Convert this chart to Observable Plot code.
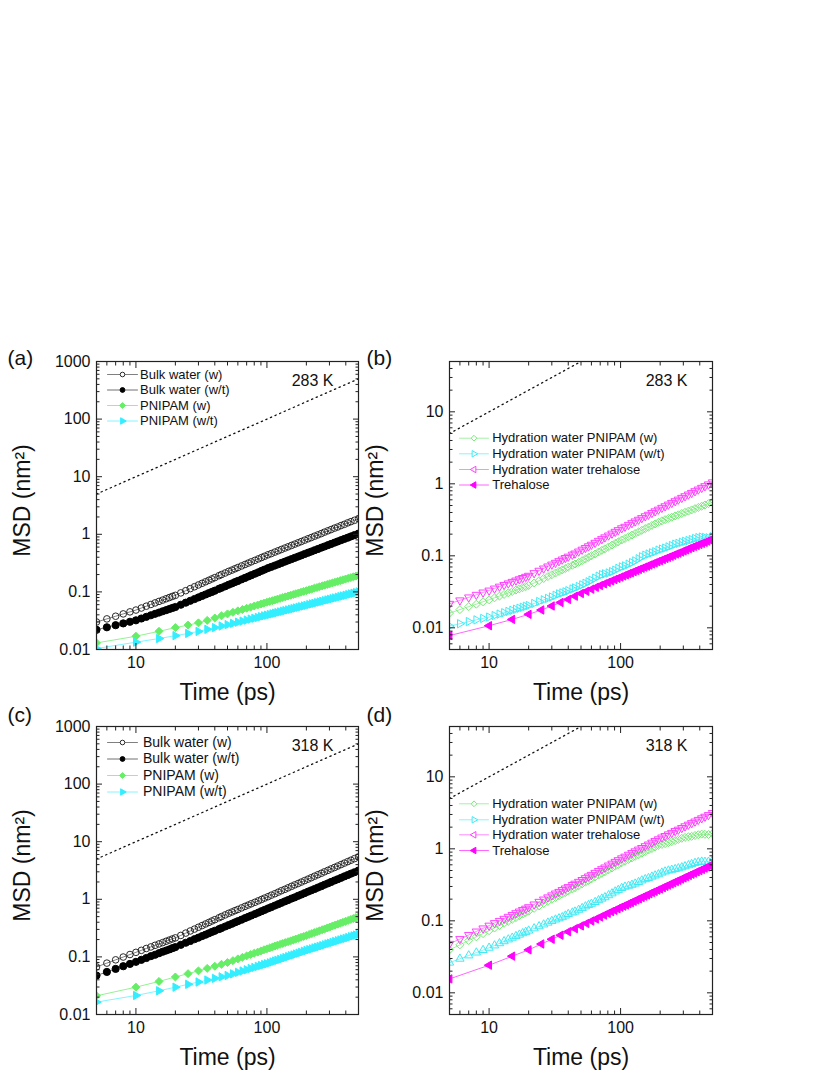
<!DOCTYPE html>
<html>
<head>
<meta charset="utf-8">
<script src="https://cdn.jsdelivr.net/npm/d3@7"></script>
<script src="https://cdn.jsdelivr.net/npm/@observablehq/plot@0.6"></script>
<style>
  body { margin: 0; background: #fff; }
  #fig { position: relative; width: 830px; height: 1075px; background: #fff; }
  #fig svg { position: absolute; }
</style>
</head>
<body>
<div id="fig"></div>
<script>
// ---------------- time grids (ps) ----------------
const T_FINE = [5,6,7,8,9,10,11,12,13,14,15,16,17,18,19,20,22,24,26,28,30,32,34,36,38,40,43,45,48,51,54,57,60,64,68,72,76,81,86,91,96,102,108,115,122,129,137,145,154,163,173,183,194,206,218,231,245,260,275,292,309,328,347,368,390,414,438,466,500];
const T_COARSE = [5,10,15,20,25,30,35,40,45,50,55,60,65,70,75,80,85,90,95,100,105,110,115,120,126,132,138,145,152,159,166,174,182,191,200,210,220,230,241,252,264,276,289,302,316,331,347,363,380,398,417,437,457,478,500];

// slope-1 guide (dotted)
const REF_T = [5, 500];
const REF_V = [5, 500];

// ---------------- 283 K ----------------
const BULK_W_283 = [0.030,0.034,0.0378,0.0415,0.045,0.0484,0.0525,0.0565,0.0605,0.0644,0.0684,0.0721,0.076,0.0798,0.0836,0.0871,0.0961,0.105,0.114,0.123,0.132,0.141,0.150,0.159,0.168,0.177,0.191,0.200,0.213,0.227,0.239,0.252,0.265,0.282,0.299,0.316,0.333,0.353,0.374,0.395,0.416,0.441,0.463,0.491,0.518,0.546,0.577,0.606,0.641,0.675,0.712,0.749,0.791,0.836,0.878,0.928,0.977,1.03,1.09,1.15,1.21,1.28,1.34,1.42,1.49,1.58,1.66,1.75,1.87];
const BULK_WT_283 = [0.022,0.0243,0.0264,0.0284,0.0303,0.0321,0.0345,0.0369,0.0393,0.0416,0.0438,0.0461,0.0482,0.0505,0.0526,0.0547,0.0598,0.065,0.0701,0.0752,0.0802,0.0853,0.0902,0.0953,0.1,0.105,0.113,0.118,0.125,0.133,0.14,0.148,0.155,0.165,0.175,0.185,0.195,0.207,0.219,0.232,0.244,0.259,0.272,0.287,0.302,0.318,0.335,0.352,0.371,0.39,0.411,0.431,0.455,0.479,0.502,0.529,0.556,0.586,0.614,0.647,0.68,0.716,0.751,0.791,0.831,0.875,0.918,0.969,1.03];
const PNIPAM_W_283 = [0.013,0.017,0.0207,0.024,0.0265,0.029,0.032,0.0352,0.0385,0.0415,0.0442,0.0469,0.0494,0.052,0.0544,0.0569,0.0591,0.0615,0.0638,0.0661,0.0682,0.0704,0.0726,0.0746,0.0771,0.0796,0.082,0.0847,0.0875,0.0901,0.0928,0.0958,0.0987,0.102,0.105,0.109,0.112,0.116,0.119,0.123,0.127,0.131,0.135,0.139,0.143,0.147,0.152,0.157,0.162,0.167,0.172,0.177,0.183,0.188,0.194];
const PNIPAM_WT_283 = [0.0104,0.0134,0.0155,0.0174,0.019,0.0206,0.0224,0.024,0.0256,0.027,0.0284,0.0298,0.0311,0.0324,0.0337,0.0349,0.036,0.0372,0.0384,0.0394,0.0405,0.0416,0.0427,0.0437,0.0449,0.0462,0.0474,0.0487,0.05,0.0513,0.0526,0.0541,0.0554,0.057,0.0585,0.0602,0.0618,0.0635,0.0652,0.0669,0.0688,0.0706,0.0725,0.0744,0.0764,0.0785,0.0807,0.0829,0.085,0.0874,0.0898,0.0923,0.0948,0.0973,0.1];
const HYD_PNIPAM_W_283 = [0.016,0.0179,0.0197,0.0213,0.023,0.0245,0.0261,0.0276,0.0291,0.0306,0.032,0.0334,0.0348,0.0361,0.0374,0.0387,0.042,0.0452,0.0484,0.0515,0.0546,0.0577,0.0607,0.0637,0.0667,0.0697,0.074,0.0769,0.0813,0.0858,0.0904,0.0953,0.1,0.106,0.113,0.119,0.125,0.133,0.141,0.149,0.156,0.166,0.174,0.184,0.194,0.204,0.215,0.226,0.239,0.25,0.264,0.277,0.292,0.306,0.318,0.331,0.344,0.358,0.371,0.387,0.402,0.418,0.434,0.452,0.47,0.489,0.508,0.53,0.556];
const HYD_PNIPAM_WT_283 = [0.0106,0.0114,0.0122,0.0129,0.0135,0.0141,0.0148,0.0155,0.0162,0.0169,0.0175,0.0181,0.0187,0.0193,0.0199,0.0204,0.0218,0.0232,0.0245,0.0256,0.0268,0.0283,0.0296,0.0305,0.0316,0.0328,0.0346,0.0358,0.0375,0.0395,0.0415,0.0436,0.0458,0.049,0.0522,0.0548,0.0562,0.0578,0.0603,0.0632,0.067,0.0702,0.0725,0.0765,0.0805,0.085,0.091,0.097,0.102,0.106,0.11,0.114,0.12,0.124,0.128,0.133,0.139,0.145,0.149,0.154,0.159,0.163,0.168,0.174,0.179,0.182,0.18,0.178,0.184];
const HYD_TREH_283 = [0.0216,0.0241,0.0265,0.0288,0.031,0.033,0.0352,0.0374,0.0395,0.0415,0.0436,0.0455,0.0474,0.0493,0.0512,0.053,0.0576,0.0622,0.0668,0.0713,0.0758,0.0802,0.0846,0.089,0.0935,0.0977,0.104,0.108,0.115,0.122,0.129,0.136,0.143,0.152,0.162,0.171,0.181,0.192,0.204,0.216,0.228,0.242,0.254,0.27,0.285,0.301,0.318,0.335,0.355,0.373,0.395,0.416,0.439,0.465,0.489,0.516,0.545,0.575,0.605,0.64,0.674,0.712,0.75,0.792,0.835,0.882,0.929,0.983,1.05];
const TREH_283 = [0.0078,0.0107,0.0131,0.0154,0.0177,0.0201,0.0225,0.0248,0.0275,0.030,0.0322,0.0344,0.0366,0.0387,0.0408,0.0428,0.0448,0.0468,0.0487,0.0507,0.0526,0.0545,0.0564,0.0581,0.0603,0.0626,0.0647,0.0671,0.0696,0.0719,0.0744,0.0771,0.0797,0.0827,0.0856,0.0889,0.092,0.0953,0.0986,0.102,0.106,0.109,0.113,0.117,0.121,0.126,0.13,0.135,0.139,0.144,0.149,0.154,0.16,0.166,0.171];

// ---------------- 318 K ----------------
const BULK_W_318 = [0.067,0.078,0.0889,0.0995,0.11,0.12,0.13,0.14,0.149,0.159,0.168,0.177,0.187,0.196,0.205,0.214,0.236,0.259,0.282,0.304,0.327,0.35,0.373,0.396,0.42,0.443,0.477,0.501,0.536,0.571,0.602,0.635,0.666,0.709,0.753,0.794,0.837,0.888,0.941,0.995,1.05,1.11,1.18,1.25,1.33,1.41,1.49,1.58,1.68,1.78,1.88,1.99,2.11,2.24,2.37,2.52,2.67,2.83,3.0,3.18,3.37,3.57,3.78,4.01,4.25,4.51,4.77,5.08,5.45];
const BULK_WT_318 = [0.0475,0.0548,0.0619,0.0689,0.0755,0.082,0.0889,0.0957,0.103,0.109,0.116,0.123,0.129,0.135,0.142,0.148,0.162,0.176,0.189,0.203,0.216,0.23,0.243,0.257,0.271,0.284,0.303,0.317,0.337,0.357,0.376,0.397,0.417,0.443,0.471,0.496,0.523,0.555,0.588,0.622,0.654,0.694,0.732,0.778,0.822,0.869,0.92,0.969,1.03,1.08,1.15,1.21,1.28,1.36,1.43,1.51,1.6,1.69,1.79,1.89,2.0,2.12,2.23,2.36,2.5,2.64,2.79,2.95,3.16];
const PNIPAM_W_318 = [0.0211,0.0298,0.0375,0.0448,0.0512,0.0572,0.0632,0.0688,0.0744,0.080,0.0861,0.0923,0.0983,0.104,0.110,0.116,0.121,0.127,0.133,0.138,0.143,0.148,0.154,0.159,0.165,0.171,0.177,0.184,0.19,0.197,0.204,0.211,0.219,0.227,0.235,0.245,0.254,0.264,0.274,0.284,0.296,0.306,0.318,0.33,0.343,0.356,0.37,0.384,0.398,0.414,0.43,0.446,0.464,0.481,0.5];
const PNIPAM_WT_318 = [0.0164,0.0214,0.0258,0.0298,0.0334,0.0366,0.0396,0.0424,0.045,0.0476,0.0508,0.0539,0.0569,0.0598,0.0628,0.0656,0.0683,0.0709,0.0737,0.076,0.0789,0.0818,0.0847,0.0874,0.0906,0.094,0.0973,0.101,0.105,0.108,0.112,0.116,0.12,0.125,0.129,0.134,0.138,0.143,0.147,0.152,0.157,0.162,0.168,0.173,0.179,0.185,0.191,0.197,0.204,0.21,0.217,0.225,0.232,0.239,0.247];
const HYD_PNIPAM_W_318 = [0.0395,0.0464,0.0532,0.0599,0.0664,0.0729,0.0794,0.0859,0.0924,0.0987,0.105,0.111,0.118,0.124,0.13,0.136,0.149,0.161,0.174,0.186,0.199,0.211,0.223,0.235,0.247,0.259,0.277,0.289,0.307,0.326,0.344,0.363,0.381,0.406,0.432,0.456,0.481,0.511,0.542,0.574,0.604,0.641,0.672,0.711,0.748,0.786,0.828,0.869,0.918,0.963,1.01,1.06,1.12,1.15,1.18,1.22,1.26,1.3,1.35,1.4,1.44,1.47,1.49,1.53,1.57,1.6,1.59,1.58,1.62];
const HYD_PNIPAM_WT_318 = [0.0262,0.0297,0.033,0.0362,0.0392,0.0422,0.0454,0.0487,0.0519,0.055,0.0581,0.0612,0.0641,0.0671,0.07,0.073,0.0784,0.0838,0.0888,0.0942,0.0994,0.104,0.108,0.112,0.118,0.124,0.13,0.134,0.142,0.15,0.158,0.165,0.172,0.182,0.193,0.203,0.212,0.226,0.24,0.255,0.268,0.285,0.297,0.306,0.316,0.328,0.345,0.363,0.378,0.392,0.41,0.425,0.442,0.466,0.483,0.498,0.51,0.522,0.536,0.552,0.57,0.59,0.612,0.635,0.652,0.662,0.658,0.66,0.69];
const HYD_TREH_318 = [0.048,0.0559,0.0636,0.0712,0.0786,0.0859,0.0931,0.1,0.107,0.114,0.121,0.128,0.135,0.142,0.148,0.155,0.169,0.184,0.198,0.212,0.226,0.24,0.253,0.268,0.282,0.295,0.315,0.329,0.349,0.37,0.392,0.414,0.436,0.465,0.494,0.523,0.552,0.588,0.624,0.661,0.697,0.74,0.78,0.83,0.876,0.925,0.979,1.03,1.09,1.15,1.22,1.29,1.36,1.44,1.51,1.59,1.67,1.77,1.85,1.95,2.06,2.17,2.28,2.4,2.53,2.66,2.8,2.95,3.15];
const TREH_318 = [0.0156,0.0242,0.0323,0.0395,0.0477,0.0555,0.0631,0.0706,0.0778,0.085,0.0921,0.0993,0.106,0.113,0.12,0.127,0.134,0.14,0.147,0.154,0.16,0.166,0.173,0.179,0.187,0.195,0.202,0.211,0.22,0.228,0.237,0.247,0.256,0.267,0.277,0.289,0.301,0.313,0.325,0.338,0.352,0.365,0.38,0.394,0.41,0.426,0.444,0.461,0.479,0.498,0.518,0.539,0.561,0.583,0.606];

// ---------------- text / ticks ----------------
const LEG_BULK = ["Bulk water (w)", "Bulk water (w/t)", "PNIPAM (w)", "PNIPAM (w/t)"];
const LEG_HYD = ["Hydration water PNIPAM (w)", "Hydration water PNIPAM (w/t)", "Hydration water trehalose", "Trehalose"];
const TEMPS = ["283 K", "318 K"];
const LETTERS = ["(a)", "(b)", "(c)", "(d)"];
const X_TITLE = "Time (ps)";
const Y_TITLE = "MSD (nm\u00B2)";
const X_MAJOR = [10, 100];
const X_MINOR = [6,7,8,9,20,30,40,50,60,70,80,90,200,300,400];
const Y_MAJOR_L = [0.01, 0.1, 1, 10, 100, 1000];
const Y_MINOR_L = [0.02,0.03,0.04,0.05,0.06,0.07,0.08,0.09,0.2,0.3,0.4,0.5,0.6,0.7,0.8,0.9,2,3,4,5,6,7,8,9,20,30,40,50,60,70,80,90,200,300,400,500,600,700,800,900];
const Y_MAJOR_R = [0.01, 0.1, 1, 10];
const Y_MINOR_R = [0.006,0.007,0.008,0.009,0.02,0.03,0.04,0.05,0.06,0.07,0.08,0.09,0.2,0.3,0.4,0.5,0.6,0.7,0.8,0.9,2,3,4,5,6,7,8,9,20,30,40];

// ---------------- symbols ----------------
const K3 = Math.sqrt(3);
const TRI_RIGHT = {draw(c, s) { const y = -Math.sqrt(s / (K3 * 3)); c.moveTo(-2 * y, 0); c.lineTo(y, -K3 * y); c.lineTo(y, K3 * y); c.closePath(); }};
const TRI_LEFT = {draw(c, s) { const y = -Math.sqrt(s / (K3 * 3)); c.moveTo(2 * y, 0); c.lineTo(-y, -K3 * y); c.lineTo(-y, K3 * y); c.closePath(); }};
const TRI_DOWN = {draw(c, s) { const y = -Math.sqrt(s / (K3 * 3)); c.moveTo(0, -2 * y); c.lineTo(-K3 * y, y); c.lineTo(K3 * y, y); c.closePath(); }};
const TRI_UP = {draw(c, s) { const y = -Math.sqrt(s / (K3 * 3)); c.moveTo(0, 2 * y); c.lineTo(-K3 * y, -y); c.lineTo(K3 * y, -y); c.closePath(); }};
const HLINE = {draw(c, l) { c.moveTo(0, 0); c.lineTo(0, -l); }};

// ---------------- styles ----------------
const GREEN = "#66ee66", CYAN = "#33eeff", MAG = "#ff00ff";
const ST = {
  bulkW:  {symbol: "circle", r: 3.3, fill: "none", stroke: "#2a2a2a", line: "#808080", lr: 2.3, lfill: "white"},
  bulkWT: {symbol: "circle", r: 3.6, fill: "#000", stroke: "#000", line: "#707070", lr: 2.4, lfill: "#000"},
  pW:     {symbol: "diamond2", r: 3.6, fill: GREEN, stroke: GREEN, line: "#94f294", lr: 2.6, lfill: GREEN},
  pWT:    {symbol: TRI_RIGHT, r: 3.1, fill: CYAN, stroke: CYAN, line: "#85f4ff", lr: 2.4, lfill: CYAN},
  hW:     {symbol: "diamond2", r: 3.6, fill: "none", stroke: "#78e878", line: "#a4f0a4", lr: 2.6, lfill: "white"},
  hWT:    {symbol: TRI_RIGHT, r: 3.1, fill: "none", stroke: "#40eaf5", line: "#8af2f8", lr: 2.4, lfill: "white"},
  hT:     {symbol: TRI_DOWN, r: 3.1, fill: "none", stroke: "#ff40ff", line: "#ff8cff", lr: 2.4, lfill: "white", lsymbol: TRI_LEFT},
  tr:     {symbol: TRI_LEFT, r: 3.1, fill: MAG, stroke: MAG, line: "#ff66ff", lr: 2.4, lfill: MAG}
};

function panel(cfg) {
  const marks = [];
  const ref = REF_T.map((t, i) => ({t, v: REF_V[i]}));
  marks.push(Plot.line(ref, {x: "t", y: "v", stroke: "#111", strokeWidth: 1.3, strokeDasharray: "1.3,3.7", clip: true}));
  for (const s of cfg.series) {
    const d = s.t.map((t, i) => ({t, v: s.v[i]}));
    marks.push(Plot.line(d, {x: "t", y: "v", stroke: s.st.line, strokeWidth: 1, clip: true}));
    marks.push(Plot.dot(d, {x: "t", y: "v", symbol: s.sym || s.st.symbol, r: s.st.r, fill: s.st.fill, stroke: s.st.stroke, strokeWidth: 1, clip: true}));
  }
  const tk = {stroke: "#222", strokeWidth: 1, fill: "none", label: null};
  marks.push(
    Plot.axisX({ticks: X_MAJOR, anchor: "bottom", tickSize: 6, dy: -6, ...tk}),
    Plot.axisX({ticks: X_MINOR, anchor: "bottom", tickSize: 3.5, dy: -3.5, ...tk}),
    Plot.axisX({ticks: X_MAJOR, anchor: "top", tickSize: 6, dy: 6, ...tk}),
    Plot.axisX({ticks: X_MINOR, anchor: "top", tickSize: 3.5, dy: 3.5, ...tk}),
    Plot.axisY({ticks: cfg.yMajor, anchor: "left", tickSize: 6, dx: 6, ...tk}),
    Plot.axisY({ticks: cfg.yMinor, anchor: "left", tickSize: 3.5, dx: 3.5, ...tk}),
    Plot.axisY({ticks: cfg.yMajor, anchor: "right", tickSize: 6, dx: -6, ...tk}),
    Plot.axisY({ticks: cfg.yMinor, anchor: "right", tickSize: 3.5, dx: -3.5, ...tk}),
    Plot.axisX({ticks: X_MAJOR, anchor: "bottom", tickSize: 0, tickPadding: 7, tickFormat: d => String(d), fontSize: 16, fill: "#111", label: null}),
    Plot.axisY({ticks: cfg.yMajor, anchor: "left", tickSize: 0, tickPadding: 6, tickFormat: d => String(d), fontSize: 16, fill: "#111", label: null}),
    Plot.frame({stroke: "#222", strokeWidth: 1.2}),
    Plot.text([cfg.letter], {frameAnchor: "top-left", dx: cfg.letterDx, dy: cfg.letterDy, text: d => d, textAnchor: "start", lineAnchor: "middle", fontSize: 21, fill: "#111"}),
    Plot.text([Y_TITLE], {frameAnchor: "left", dx: -74, dy: -5, rotate: -90, text: d => d, textAnchor: "middle", lineAnchor: "middle", fontSize: 23, fill: "#111"}),
    Plot.text([X_TITLE], {frameAnchor: "bottom", dy: 50, text: d => d, textAnchor: "middle", lineAnchor: "bottom", fontSize: 23, fill: "#111"}),
    Plot.text([cfg.temp], {frameAnchor: "top-right", dx: -25, dy: 24, text: d => d, textAnchor: "end", lineAnchor: "bottom", fontSize: 16, fill: "#111"})
  );
  cfg.legend.forEach((lab, i) => {
    const st = cfg.legStyles[i];
    const dy = cfg.legRows[i];
    marks.push(Plot.vector([0], {frameAnchor: "top-left", dx: cfg.legX, dy, length: cfg.legLen, rotate: 90, anchor: "middle", shape: HLINE, stroke: st.line, strokeWidth: 1}));
    marks.push(Plot.dot([0], {frameAnchor: "top-left", dx: cfg.legX, dy, symbol: st.lsymbol || st.symbol, r: st.lr, fill: st.lfill, stroke: st.stroke, strokeWidth: 1}));
    marks.push(Plot.text([lab], {frameAnchor: "top-left", dx: cfg.legTextX, dy, text: d => d, textAnchor: "start", lineAnchor: "middle", fontSize: cfg.legFont, fill: "#111"}));
  });
  const svg = Plot.plot({
    width: cfg.width, height: cfg.height,
    marginLeft: cfg.ml, marginRight: cfg.mr, marginTop: cfg.mt, marginBottom: cfg.mb,
    x: {type: "log", domain: [5, 500]},
    y: {type: "log", domain: cfg.yDomain},
    style: {fontFamily: "'Liberation Sans', Arial, sans-serif", background: "transparent", overflow: "visible", color: "#111"},
    marks
  });
  svg.style.left = cfg.left + "px";
  svg.style.top = cfg.top + "px";
  document.getElementById("fig").appendChild(svg);
}

const leftBase = {width: 360, ml: 96, mr: 2, yDomain: [0.01, 1000], yMajor: Y_MAJOR_L, yMinor: Y_MINOR_L, letterDx: -89, legX: 26, legLen: 30, legStyles: [ST.bulkW, ST.bulkWT, ST.pW, ST.pWT], legend: LEG_BULK};
const rightBase = {width: 470, ml: 89, mr: 118, yDomain: [0.005, 50], yMajor: Y_MAJOR_R, yMinor: Y_MINOR_R, letterDx: -83, legX: 24.5, legLen: 29, legTextX: 42.7, legFont: 13, legStyles: [ST.hW, ST.hWT, ST.hT, ST.tr], legend: LEG_HYD};

panel({...leftBase, left: 0, top: 330, height: 376, mt: 31, mb: 57, letter: LETTERS[0], letterDy: -3.5, temp: TEMPS[0],
  legRows: [13, 28.5, 44, 59.5], legTextX: 43.5, legFont: 13,
  series: [
    {t: T_FINE, v: BULK_W_283, st: ST.bulkW},
    {t: T_FINE, v: BULK_WT_283, st: ST.bulkWT},
    {t: T_COARSE, v: PNIPAM_W_283, st: ST.pW},
    {t: T_COARSE, v: PNIPAM_WT_283, st: ST.pWT}
  ]});

panel({...rightBase, left: 360, top: 330, height: 376, mt: 31, mb: 57, letter: LETTERS[1], letterDy: -3.5, temp: TEMPS[0],
  legRows: [76.7, 92.3, 108, 123.5],
  series: [
    {t: T_FINE, v: HYD_PNIPAM_W_283, st: ST.hW},
    {t: T_FINE, v: HYD_PNIPAM_WT_283, st: ST.hWT},
    {t: T_FINE, v: HYD_TREH_283, st: ST.hT},
    {t: T_COARSE, v: TREH_283, st: ST.tr}
  ]});

panel({...leftBase, left: 0, top: 706, height: 369, mt: 20, mb: 61, letter: LETTERS[2], letterDy: -11, temp: TEMPS[1],
  legRows: [16, 32.5, 49, 65.5], legTextX: 46.5, legFont: 14,
  series: [
    {t: T_FINE, v: BULK_W_318, st: ST.bulkW},
    {t: T_FINE, v: BULK_WT_318, st: ST.bulkWT},
    {t: T_COARSE, v: PNIPAM_W_318, st: ST.pW},
    {t: T_COARSE, v: PNIPAM_WT_318, st: ST.pWT}
  ]});

panel({...rightBase, left: 360, top: 706, height: 369, mt: 20, mb: 61, letter: LETTERS[3], letterDy: -11, temp: TEMPS[1],
  legRows: [77.3, 93.3, 108.3, 124],
  series: [
    {t: T_FINE, v: HYD_PNIPAM_W_318, st: ST.hW},
    {t: T_FINE, v: HYD_PNIPAM_WT_318, st: ST.hWT, sym: TRI_UP},
    {t: T_FINE, v: HYD_TREH_318, st: ST.hT},
    {t: T_COARSE, v: TREH_318, st: ST.tr}
  ]});
</script>
</body>
</html>
